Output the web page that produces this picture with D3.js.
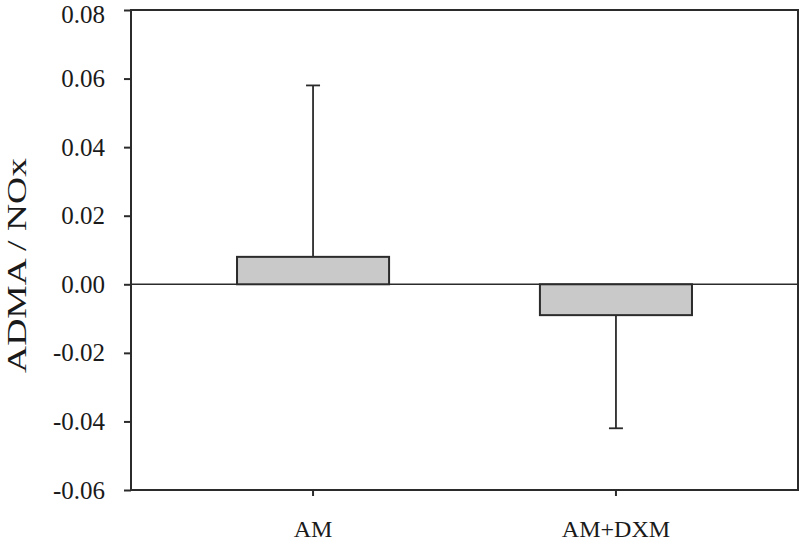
<!DOCTYPE html>
<html>
<head>
<meta charset="utf-8">
<script src="https://cdn.jsdelivr.net/npm/d3@7"></script>
<style>
  body { margin: 0; background: #fff; }
  svg { display: block; }
</style>
</head>
<body>
<div id="chart"></div>
<script>
// Data
const groups = ["AM", "AM+DXM"];
const means = [0.008, -0.009];
const errors = [0.050, 0.033]; // one-sided, drawn away from zero
const yTicks = [-0.06, -0.04, -0.02, 0.00, 0.02, 0.04, 0.06, 0.08];

const width = 800, height = 542;
const plotL = 131, plotR = 798, plotT = 10, plotB = 490;
const ink = "#2b2b2b";
const serif = "'Liberation Serif', 'Times New Roman', Times, serif";

const svg = d3.select("#chart").append("svg")
    .attr("width", width)
    .attr("height", height)
    .style("font-family", serif);

const x = d3.scaleBand()
    .domain(groups)
    .range([plotL, plotR])
    .paddingInner(0.498)
    .paddingOuter(0.35);

const y = d3.scaleLinear()
    .domain([-0.06, 0.08])
    .range([plotB, plotT]);

// Frame
svg.append("rect")
    .attr("x", plotL).attr("y", plotT)
    .attr("width", plotR - plotL).attr("height", plotB - plotT)
    .attr("fill", "none")
    .attr("stroke", ink)
    .attr("stroke-width", 2);

// Left axis
const yAxis = svg.append("g")
    .attr("transform", `translate(${plotL},0)`)
    .call(d3.axisLeft(y).tickValues(yTicks).tickSize(7).tickPadding(19)
        .tickFormat(d => d.toFixed(2)));
yAxis.attr("font-family", null).attr("font-size", null);
yAxis.select(".domain").remove();
yAxis.selectAll("line").attr("stroke", ink).attr("stroke-width", 2);
yAxis.selectAll("text")
    .style("font-family", serif)
    .style("font-size", "25px")
    .attr("fill", "#1a1a1a");
yAxis.selectAll(".tick").filter(d => d === 0.08).select("text").attr("dy", "0.5em");

// Bottom axis
const xAxis = svg.append("g")
    .attr("transform", `translate(0,${plotB})`)
    .call(d3.axisBottom(x).tickSize(6).tickPadding(23.5));
xAxis.attr("font-family", null).attr("font-size", null);
xAxis.select(".domain").remove();
xAxis.selectAll("line").attr("stroke", ink).attr("stroke-width", 2);
xAxis.selectAll("text")
    .style("font-family", serif)
    .style("font-size", "24px")
    .attr("fill", "#1a1a1a");

// Zero line
svg.append("line")
    .attr("x1", plotL).attr("x2", plotR)
    .attr("y1", y(0)).attr("y2", y(0))
    .attr("stroke", ink)
    .attr("stroke-width", 1.6);

// Bars
svg.selectAll("rect.bar")
    .data(groups)
    .enter()
    .append("rect")
    .attr("class", "bar")
    .attr("x", d => x(d))
    .attr("width", x.bandwidth())
    .attr("y", (d, i) => y(Math.max(0, means[i])))
    .attr("height", (d, i) => Math.abs(y(means[i]) - y(0)))
    .attr("fill", "#c9c9c9")
    .attr("stroke", ink)
    .attr("stroke-width", 2);

// Error bars
const capW = 14;
const errEnd = (i) => means[i] + Math.sign(means[i]) * errors[i];
const eb = svg.selectAll("g.err")
    .data(groups)
    .enter()
    .append("g")
    .attr("class", "err");
eb.append("line")
    .attr("x1", d => x(d) + x.bandwidth() / 2)
    .attr("x2", d => x(d) + x.bandwidth() / 2)
    .attr("y1", (d, i) => y(means[i]))
    .attr("y2", (d, i) => y(errEnd(i)))
    .attr("stroke", ink)
    .attr("stroke-width", 1.8);
eb.append("line")
    .attr("x1", d => x(d) + x.bandwidth() / 2 - capW / 2)
    .attr("x2", d => x(d) + x.bandwidth() / 2 + capW / 2)
    .attr("y1", (d, i) => y(errEnd(i)))
    .attr("y2", (d, i) => y(errEnd(i)))
    .attr("stroke", ink)
    .attr("stroke-width", 1.8);

// Y title
svg.append("text")
    .attr("transform", `translate(26,${(158 + 373) / 2}) rotate(-90)`)
    .attr("text-anchor", "middle")
    .style("font-family", serif)
    .style("font-size", "27px")
    .attr("fill", "#1a1a1a")
    .attr("textLength", 215)
    .attr("lengthAdjust", "spacingAndGlyphs")
    .text("ADMA / NOx");
</script>
</body>
</html>
